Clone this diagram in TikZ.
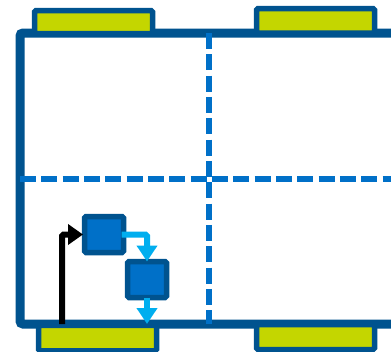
\documentclass[tikz,border=0pt]{standalone}
\usetikzlibrary{arrows.meta}
\definecolor{framecol}{HTML}{00538F}
\definecolor{fillblue}{HTML}{0070C8}
\definecolor{lime}{HTML}{C4D600}
\definecolor{cyanarrow}{HTML}{00AEEF}
\tikzset{
  padbox/.style={draw=framecol,fill=lime,line width=5.5pt,rounded corners=1.5pt,minimum width=118pt,minimum height=23pt,inner sep=0pt,outer sep=0pt},
  chip/.style={draw=framecol,fill=fillblue,line width=5.5pt,rounded corners=1.5pt,minimum width=39pt,minimum height=36pt,inner sep=0pt,outer sep=0pt},
  wall/.style={draw=framecol,line width=9pt,rounded corners=3pt},
  divider/.style={draw=fillblue,line width=5.5pt,dash pattern=on 16pt off 5.33pt},
  blackflow/.style={draw=black,line width=6pt,-{Triangle[length=15pt,width=20pt]}},
  cyanflow/.style={draw=cyanarrow,line width=6pt,-{Triangle[length=16pt,width=20pt]}}
}
\begin{document}
\begin{tikzpicture}[x=1pt,y=-1pt]
\useasboundingbox (0,0) rectangle (391,351);
\clip (0,0) rectangle (391,351);
\draw[wall] (395,33) -- (20,33) -- (20,324) -- (395,324);
\coordinate (vtop) at (209,33);
\coordinate (vbot) at (209,324);
\coordinate (hleft) at (20,179);
\coordinate (hright) at (391,179);
\draw[divider] (vtop) -- (vbot);
\draw[divider] (hleft) -- (hright);
\node[padbox] (padTL) at (93.5,22) {};
\node[padbox,minimum height=24.5pt] (padTR) at (315.5,20.75) {};
\node[padbox,minimum height=25.5pt] (padBL) at (97.5,338) {};
\node[padbox,minimum height=25pt] (padBR) at (315.5,337) {};
\node[chip] (boxA) at (104,234.5) {};
\node[chip] (boxB) at (147,279.5) {};
\coordinate (blackstart) at (62,324);
\coordinate (cyanend) at (147,324);
\draw[blackflow,rounded corners=1.5pt] (blackstart) |- ([xshift=-1.5pt]boxA.west);
\draw[cyanflow,rounded corners=1.5pt] ([xshift=-2pt]boxA.east) -| (boxB.north);
\draw[cyanflow] (boxB.south) -- (cyanend);
\end{tikzpicture}
\end{document}
